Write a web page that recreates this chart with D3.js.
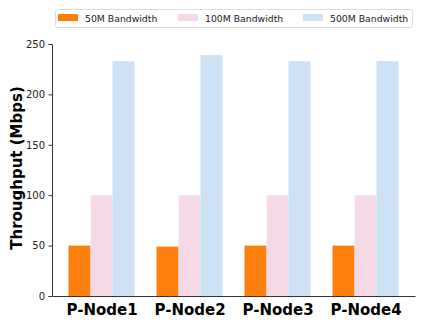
<!DOCTYPE html>
<html>
<head>
<meta charset="utf-8">
<script src="https://cdn.jsdelivr.net/npm/d3@7"></script>
<style>
  body { margin: 0; background: #fff; }
  text { font-family: "DejaVu Sans", sans-serif; }
</style>
</head>
<body>
<div id="chart"></div>
<script>
// data
const nodes = ["P-Node1", "P-Node2", "P-Node3", "P-Node4"]
const seriesNames = ["50M Bandwidth", "100M Bandwidth", "500M Bandwidth"]
const bw50 = [50, 49, 50, 50]
const bw100 = [100, 100, 100, 100]
const bw500 = [233, 239, 233, 233]
const yTicks = [0, 50, 100, 150, 200, 250]
const colors = ["#ff7f0e", "#f5d9e7", "#cde1f5"]

const seriesValues = [bw50, bw100, bw500]

const width = 436
const height = 327
let dimensions = {
  margin: { top: 44, right: 21, bottom: 31, left: 52 },
}
dimensions.boundedWidth = width - dimensions.margin.left - dimensions.margin.right
dimensions.boundedHeight = height - dimensions.margin.top - dimensions.margin.bottom

const svg = d3.select("#chart")
  .append("svg")
    .attr("width", width)
    .attr("height", height)

const bounds = svg.append("g")
  .attr("transform", `translate(${dimensions.margin.left},${dimensions.margin.top})`)

// scales
const barW = 0.25
const xScale = d3.scaleLinear()
  .domain([-0.5625, nodes.length - 1 + 0.5625])
  .range([0, dimensions.boundedWidth])

const yScale = d3.scaleLinear()
  .domain([0, 250])
  .range([dimensions.boundedHeight, 0])

// bars
seriesValues.forEach((vals, s) => {
  bounds.append("g")
    .selectAll("rect")
    .data(vals)
    .join("rect")
      .attr("x", (d, i) => xScale(i + (s - 1) * barW - barW / 2))
      .attr("width", xScale(barW) - xScale(0))
      .attr("y", d => yScale(d))
      .attr("height", d => yScale(0) - yScale(d))
      .attr("fill", colors[s])
})

// axes
const yAxis = bounds.append("g")
  .call(d3.axisLeft(yScale).tickValues(yTicks).tickSize(3.5).tickPadding(3.5))
yAxis.select(".domain").attr("stroke", "#333").attr("stroke-width", 1)
yAxis.selectAll(".tick line").attr("stroke", "#333")
yAxis.selectAll(".tick text").attr("font-size", 10).attr("fill", "#222")
  .style("font-family", "DejaVu Sans")

const xAxis = bounds.append("g")
  .attr("transform", `translate(0,${dimensions.boundedHeight})`)
  .call(d3.axisBottom(xScale).tickValues(d3.range(nodes.length)).tickFormat(i => nodes[i]).tickSize(0).tickPadding(8))
xAxis.select(".domain").attr("stroke", "#333").attr("stroke-width", 1)
xAxis.selectAll(".tick text")
  .attr("font-size", 15)
  .attr("font-weight", "bold")
  .attr("fill", "#000")
  .style("font-family", "DejaVu Sans")

// y label
svg.append("text")
  .attr("transform", `translate(22,${dimensions.margin.top + dimensions.boundedHeight / 2 - 2}) rotate(-90)`)
  .attr("text-anchor", "middle")
  .attr("font-size", 15)
  .attr("font-weight", "bold")
  .text("Throughput (Mbps)")

// legend
const legend = svg.append("g")
legend.append("rect")
  .attr("x", 55.5).attr("y", 9.5)
  .attr("width", 357).attr("height", 18)
  .attr("rx", 2)
  .attr("fill", "#fff")
  .attr("stroke", "#ddd")
const legendX = [58, 178, 303]
seriesNames.forEach((name, i) => {
  legend.append("rect")
    .attr("x", legendX[i]).attr("y", 14)
    .attr("width", 20).attr("height", 7)
    .attr("fill", colors[i])
  legend.append("text")
    .attr("x", legendX[i] + 27).attr("y", 21.5)
    .attr("font-size", 9.3)
    .attr("fill", "#222")
    .text(name)
})
</script>
</body>
</html>
